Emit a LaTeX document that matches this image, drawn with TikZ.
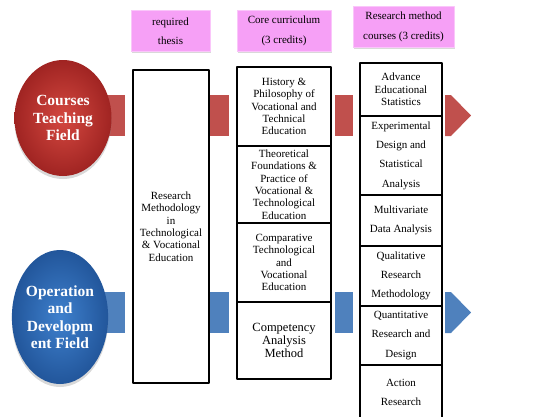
\documentclass[tikz,border=0pt]{standalone}
\usepackage{fontspec}
\setmainfont{Liberation Serif}
\newfontfamily\timesfont{Liberation Serif}
\usetikzlibrary{shapes.geometric,shadows}
\definecolor{fieldred}{RGB}{192,80,77}
\definecolor{fieldblue}{RGB}{79,129,189}
\definecolor{headpink}{RGB}{246,160,246}
\begin{document}
\begin{tikzpicture}[x=1pt, y=-1pt, font=\timesfont\fontsize{11}{12.3}\selectfont, line join=round,
	head/.style={fill=headpink, draw=headpink!60!white, line width=0.8pt, drop shadow={opacity=0.3,shadow xshift=1pt,shadow yshift=-1.5pt}, minimum height=41, align=center, inner sep=0pt, font=\timesfont\fontsize{11}{19.5}\selectfont},
	cell/.style={draw, line width=1.6pt, fill=white, align=center, inner sep=0pt},
	wide/.style={font=\timesfont\fontsize{11}{19.3}\selectfont},
	field/.style={ellipse, inner sep=0pt, text=white, align=center, font=\timesfont\fontsize{15.5}{17.5}\selectfont\bfseries, drop shadow={opacity=0.3,shadow xshift=0pt,shadow yshift=-3pt}}]
			\clip (0,0) rectangle (541,416);
			\foreach \y/\c in {95/fieldred, 292/fieldblue}{
				\fill[\c] (100,\y) rectangle (125,\y+41);
				\fill[\c] (210,\y) rectangle (229,\y+41);
				\fill[\c] (335,\y) rectangle (353,\y+41);
				\fill[\c] (445,\y) -- (451,\y) -- (471,\y+20.5) -- (451,\y+41) -- (445,\y+41) -- cycle;
			}
			\node[field, minimum width=97, minimum height=116, inner color={rgb,255:red,212;green,72;blue,64}, outer color={rgb,255:red,160;green,36;blue,34}] (teach) at (63,118) {Courses\\Teaching\\Field};
			\node[field, minimum width=96, minimum height=134, inner color={rgb,255:red,62;green,128;blue,205}, outer color={rgb,255:red,34;green,86;blue,155}] (oper) at (60,317) {Operation\\and\\Developm\\ent Field};
			\node[head, minimum width=79] (hthesis) at (170.5,31) {required\\thesis};
			\node[head, minimum width=94] (hcore) at (284,31) {Core curriculum\\(3 credits)};
			\node[head, minimum width=101] (hmethod) at (403.5,27) {Research method\\courses (3 credits)};
			\node[cell, minimum width=76, minimum height=313] (thesis) at (171,226.5) {Research\\Methodology\\in\\Technological\\\& Vocational\\Education};
			\node[cell, minimum width=94, minimum height=79] (core1) at (284,106.5) {History \&\\Philosophy of\\Vocational and\\Technical\\Education};
			\node[cell, minimum width=94, minimum height=77] (core2) at (284,184.5) {Theoretical\\Foundations \&\\Practice of\\Vocational \&\\Technological\\Education};
			\node[cell, minimum width=94, minimum height=79] (core3) at (284,262.5) {Comparative\\Technological\\and\\Vocational\\Education};
			\node[cell, minimum width=94, minimum height=77, font=\timesfont\fontsize{12.5}{13.3}\selectfont] (core4) at (284,340.5) {Competency\\Analysis\\Method};
			\node[cell, minimum width=82, minimum height=53] (meth1) at (401,89.5) {Advance\\Educational\\Statistics};
			\node[cell, wide, minimum width=82, minimum height=79] (meth2) at (401,155.5) {Experimental\\Design and\\Statistical\\Analysis};
			\node[cell, wide, minimum width=82, minimum height=51] (meth3) at (401,220.5) {Multivariate\\Data Analysis};
			\node[cell, wide, minimum width=82, minimum height=60] (meth4) at (401,276) {Qualitative\\Research\\Methodology};
			\node[cell, wide, minimum width=82, minimum height=59] (meth5) at (401,335.5) {Quantitative\\Research and\\Design};
			\node[cell, wide, minimum width=82, minimum height=55] (meth6) at (401,392.5) {Action\\Research};
	\end{tikzpicture}
\end{document}
